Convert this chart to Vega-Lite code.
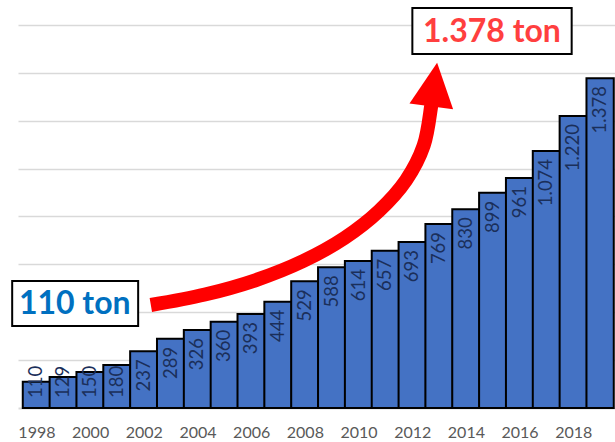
{
  "$schema": "https://vega.github.io/schema/vega-lite/v6.json",
  "width": 597,
  "height": 408,
  "autosize": "none",
  "padding": {"left": 18, "top": 0, "right": 0, "bottom": 34},
  "background": "white",
  "datasets": {
    "bars": [
      {"year": 1998, "value": 110},
      {"year": 1999, "value": 129},
      {"year": 2000, "value": 150},
      {"year": 2001, "value": 180},
      {"year": 2002, "value": 237},
      {"year": 2003, "value": 289},
      {"year": 2004, "value": 326},
      {"year": 2005, "value": 360},
      {"year": 2006, "value": 393},
      {"year": 2007, "value": 444},
      {"year": 2008, "value": 529},
      {"year": 2009, "value": 588},
      {"year": 2010, "value": 614},
      {"year": 2011, "value": 657},
      {"year": 2012, "value": 693},
      {"year": 2013, "value": 769},
      {"year": 2014, "value": 830},
      {"year": 2015, "value": 899},
      {"year": 2016, "value": 961},
      {"year": 2017, "value": 1074},
      {"year": 2018, "value": 1220},
      {"year": 2019, "value": 1378}
    ],
    "arrow": [
      {"year": 2002.262, "value": 430.3},
      {"year": 2004.277, "value": 474.1},
      {"year": 2006.181, "value": 534.7},
      {"year": 2007.94, "value": 614.1},
      {"year": 2009.478, "value": 710.2},
      {"year": 2010.76, "value": 823.0},
      {"year": 2011.767, "value": 950.8},
      {"year": 2012.427, "value": 1096.2},
      {"year": 2012.701, "value": 1257.4},
      {"year": 2012.738, "value": 1286.7}
    ]
  },
  "layer": [
    {
      "data": {"name": "bars"},
      "mark": {"type": "bar", "width": 27.3, "fill": "#4472C4", "stroke": "#000000", "strokeWidth": 2},
      "encoding": {
        "x": {
          "field": "year", "type": "quantitative",
          "scale": {"domain": [1997.5, 2019.368], "nice": false, "zero": false},
          "axis": {
            "values": [1998, 2000, 2002, 2004, 2006, 2008, 2010, 2012, 2014, 2016, 2018],
            "format": "d", "title": null, "grid": false, "ticks": false, "tickSize": 0,
            "labelPadding": 16, "labelFont": "Lato", "labelFontSize": 16, "labelColor": "#595959",
            "domainColor": "#D9D9D9", "domainWidth": 2, "labelFlush": false, "labelOverlap": false
          }
        },
        "y": {
          "field": "value", "type": "quantitative",
          "scale": {"domain": [0, 1704.4], "nice": false, "zero": true},
          "axis": {
            "values": [200, 400, 600, 800, 1000, 1200, 1400, 1600],
            "title": null, "labels": false, "ticks": false, "domain": false,
            "grid": true, "gridColor": "#D9D9D9", "gridWidth": 1.5
          }
        }
      }
    },
    {
      "data": {"name": "bars"},
      "transform": [{"filter": "datum.value > 180"}],
      "mark": {"type": "text", "angle": 270, "align": "right", "baseline": "middle", "dx": -8, "font": "Lato", "fontSize": 18.5, "color": "#1B2F5A"},
      "encoding": {
        "x": {"field": "year", "type": "quantitative"},
        "y": {"field": "value", "type": "quantitative"},
        "text": {"field": "value", "type": "quantitative", "format": ","}
      }
    },
    {
      "data": {"name": "bars"},
      "transform": [{"filter": "datum.value <= 180"}],
      "mark": {"type": "text", "angle": 270, "align": "left", "baseline": "middle", "dx": 10, "font": "Lato", "fontSize": 18.5, "color": "#1B2F5A"},
      "encoding": {
        "x": {"field": "year", "type": "quantitative"},
        "y": {"datum": 0, "type": "quantitative"},
        "text": {"field": "value", "type": "quantitative", "format": ","}
      }
    },
    {
      "data": {"name": "arrow"},
      "mark": {"type": "line", "color": "#FF0000", "strokeWidth": 14, "strokeCap": "butt", "interpolate": "catmull-rom"},
      "encoding": {
        "x": {"field": "year", "type": "quantitative"},
        "y": {"field": "value", "type": "quantitative"}
      }
    },
    {
      "data": {"values": [{}]},
      "mark": {"type": "point", "shape": "M0,-1L-1,1L1,1Z", "filled": true, "color": "#FF0000", "opacity": 1, "size": 1936, "angle": 7.6, "strokeWidth": 0},
      "encoding": {
        "x": {"datum": 2012.819, "type": "quantitative"},
        "y": {"datum": 1351.0, "type": "quantitative"}
      }
    },
    {
      "data": {"values": [{}]},
      "mark": {"type": "rect", "fill": "#FFFFFF", "stroke": "#000000", "strokeWidth": 2},
      "encoding": {
        "x": {"datum": 1997.097, "type": "quantitative"},
        "x2": {"datum": 2001.79},
        "y": {"datum": 531, "type": "quantitative"},
        "y2": {"datum": 343}
      }
    },
    {
      "data": {"values": [{}]},
      "mark": {"type": "text", "text": "110 ton", "font": "Lato", "fontWeight": "bold", "fontSize": 32, "color": "#0070C0", "align": "center", "baseline": "middle"},
      "encoding": {
        "x": {"datum": 1999.427, "type": "quantitative"},
        "y": {"datum": 434, "type": "quantitative"}
      }
    },
    {
      "data": {"values": [{}]},
      "mark": {"type": "rect", "fill": "#FFFFFF", "stroke": "#000000", "strokeWidth": 2},
      "encoding": {
        "x": {"datum": 2012.005, "type": "quantitative"},
        "x2": {"datum": 2017.94},
        "y": {"datum": 1671, "type": "quantitative"},
        "y2": {"datum": 1479}
      }
    },
    {
      "data": {"values": [{}]},
      "mark": {"type": "text", "text": "1.378 ton", "font": "Lato", "fontWeight": "bold", "fontSize": 32, "color": "#FF3F3F", "align": "center", "baseline": "middle"},
      "encoding": {
        "x": {"datum": 2014.97, "type": "quantitative"},
        "y": {"datum": 1568.7, "type": "quantitative"}
      }
    }
  ],
  "config": {
    "view": {"stroke": null},
    "locale": {"number": {"decimal": ",", "thousands": ".", "grouping": [3], "currency": ["", ""]}}
  }
}
